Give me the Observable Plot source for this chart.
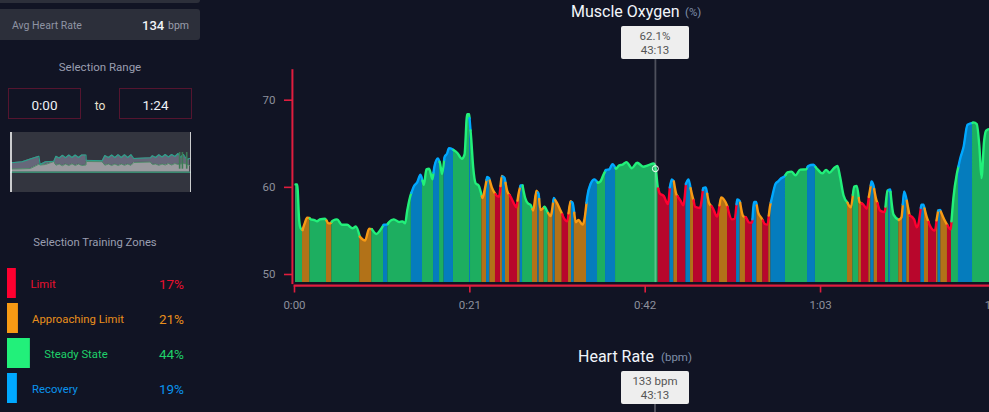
<!DOCTYPE html>
<html><head><meta charset="utf-8">
<script src="https://cdn.jsdelivr.net/npm/d3@7"></script>
<script src="https://cdn.jsdelivr.net/npm/@observablehq/plot@0.6"></script>
<style>
html,body{margin:0;padding:0;background:#111424;width:989px;height:412px;overflow:hidden;font-family:Roboto,sans-serif}
#page{position:relative;width:989px;height:412px;overflow:hidden}
#page svg{position:absolute;left:0;top:0;background:transparent;overflow:hidden}
.t{position:absolute;white-space:nowrap;line-height:1;transform:translate(-50%,-50%)}
.l{transform:translate(0,-50%)}
.r{transform:translate(-100%,-50%)}
.card{position:absolute;left:0;width:200px;background:#2c2f3a;border-radius:0 3px 3px 0}
.box{position:absolute;top:88px;width:71px;height:29px;border:1px solid #55152f}
.tip{position:absolute;left:621px;width:68px;height:33px;background:#eeeeee;border-radius:2px;color:#555;font-size:11.5px;line-height:14px;text-align:center;padding-top:2.5px;box-sizing:border-box}
</style></head>
<body><div id="page"></div>
<script>
// Muscle oxygen trace: time in minutes, value in %
const sampleT = [0.12,0.32,0.56,0.72,0.96,1.2,1.52,1.76,1.96,2.4,2.7,3.03,3.67,4.07,4.3,4.63,5.1,5.67,6.3,6.95,7.35,7.82,8.46,8.94,9.26,9.82,10.22,10.7,11.1,11.34,11.9,12.53,12.93,13.25,13.5,13.97,14.29,14.69,15.09,15.33,15.49,15.8,16.12,16.53,16.77,17.17,17.4,17.68,17.96,18.28,18.5,18.92,19.48,20.04,20.36,20.68,20.92,21.15,21.4,21.7,22.04,22.5,22.75,23.07,23.3,23.63,24.1,24.5,24.83,25.15,25.47,
25.87,26.27,26.59,26.83,27.07,27.31,27.63,27.95,28.27,28.58,28.98,29.22,29.46,29.94,30.34,30.66,31.06,31.46,31.86,32.26,32.66,33.06,33.3,33.69,34.01,34.49,34.73,35.05,35.45,35.93,36.33,36.65,36.97,37.29,37.69,38.09,38.49,38.88,39.28,39.76,40.4,41.04,41.76,42.32,43.03,43.27,43.51,43.75,44.23,44.71,44.95,45.19,45.43,45.75,46.23,46.55,46.87,47.19,47.59,47.99,48.54,48.94,49.26,49.66,50.06,50.62,51.1,51.42,51.82,52.38,52.7,53.02,53.33,53.73,54.05,54.45,
54.81,55.05,55.29,55.53,55.93,56.33,56.65,56.97,57.28,57.6,57.92,58.32,58.72,59.04,59.52,60.0,60.56,61.28,61.52,62.15,62.71,63.19,63.67,64.07,64.63,65.03,65.35,65.75,66.23,66.63,67.03,67.34,67.66,68.06,68.54,69.1,69.34,69.66,70.14,70.7,71.02,71.34,71.74,72.37,72.69,73.01,73.33,73.65,74.21,74.53,75.09,75.33,75.73,76.05,76.69,77.08,77.32,77.8,78.28,78.6,78.92,79.32,79.72,80.12,80.6,81.32,81.71,82.03,82.27,82.59,82.83,83.23,84];
const sampleV = [60.34,60.34,56.18,55.34,55.1,55.8,56.52,56.5,56.33,56.25,56.1,56.33,56.4,55.87,55.87,56.2,56.33,55.7,55.7,55.3,55.5,54.35,53.9,55.26,55.2,54.65,55.03,55.72,55.72,56.03,56.33,56.03,56.1,55.87,57.33,59.3,60.1,60.57,61.45,60.76,60.3,62.06,62.14,60.92,62.45,63.32,62.87,61.53,63.44,63.9,64.5,64.36,63.97,63.29,63.74,68.4,68.4,65.73,62.3,60.46,60.23,58.78,59.6,61.2,61.07,60,59.16,58.93,61.3,61.07,59.6,
58.93,58.17,57.7,59.24,60.23,60.23,58.78,58.17,58,57.33,59.62,59.3,57.4,57.78,57.1,56.71,58.78,58.17,57.33,56.48,56.1,58.4,58.24,56,56.26,55.72,56.37,58.85,60.38,60.92,60.53,60.69,61.38,62,62.06,62.67,62.14,62.52,62.6,62.9,62.2,62.83,62.37,62.52,62.75,62.14,60,59.3,59,58.09,60,60.92,60.69,59.16,58.47,57.94,60.38,60.92,59.24,57.78,57.63,59.92,60,58.17,57.7,56.64,58.85,58.62,57.86,56.33,56.4,58.62,58.4,56.71,56.56,55.95,
55.95,58.32,58.32,57.1,56.48,55.8,55.72,57.94,59.24,60.38,60.69,61.07,61.3,61.72,61.8,61.38,62.03,62.06,62.45,62.6,62,61.6,62,61.68,62.22,62.45,61.15,59.08,58.24,57.7,60.08,60.15,58.32,58.09,57.55,60.69,60.2,58.62,57.33,57.17,59.62,59.77,56.87,56.26,56.56,59.54,58.47,56.79,56.33,55.41,58.01,58.01,56.56,55.72,55.03,57.33,57.4,56.33,55.49,55.19,58.85,61.53,63.29,64.59,67.18,67.45,67.26,64.59,61.07,65.35,66.5,66.69,66.7];

// Training zone of each stretch: start minute and zone name
const zoneStart = [0.12,0.96,1.84,3.83,4.47,7.82,9.26,10.66,11.18,14.0,15.33,16.65,17.37,17.92,19.04,20.96,21.08,22.44,23.0,23.39,24.07,24.67,24.9,25.27,25.75,26.71,27.03,27.31,28.5,29.14,29.3,29.9,30.38,30.98,31.22,32.06,32.82,33.18,33.5,34.97,36.29,37.25,38.45,43.55,44.95,45.43,45.87,46.87,47.43,47.79,48.9,49.42,49.94,50.9,51.86,52.94,53.37,54.01,54.85,55.37,56.09,56.8,57.05,58.8,61.44,62.39,66.23,66.87,67.58,67.9,68.78,69.02,69.42,69.82,70.78,71.18,71.38,72.37,72.85,73.33,73.65,75.01,75.45,75.93,76.89,77.08,77.4,78.2,78.68,79.52,81.2];
const S="Steady State",A="Approaching Limit",L="Limit",R="Recovery";
const zoneSeq = [S,A,S,A,S,A,S,R,S,R,S,R,S,R,S,R,S,A,R,A,L,A,R,A,L,A,R,S,A,R,A,S,A,R,A,L,A,R,A,R,S,R,S,L,R,A,L,R,A,L,R,A,L,A,L,R,A,L,R,A,L,A,R,S,R,S,A,S,A,L,A,R,A,L,S,R,S,A,R,A,L,R,A,L,A,R,A,L,S,R,S];

const zoneNames = [L,A,S,R];
const zoneShare = [17,21,44,19];
const zoneColor = ["#ff0030","#f79a14","#22f07a","#00a8ff"];
const zoneText = ["#e8102f","#e98f1c","#1fd069","#0a95ee"];
const zoneLabelCenter = [43,78,76,55];

const yTicks = [50,60,70];
const xTicks = [0,21,42,63,84];
const cursorT = 43.22, cursorV = 62.14;

// Overview strip in the sidebar
const miniT = [0.2,5.2,9,13,13.6,16.1,20,21,22.5,24,25.5,27,28.5,30,31.5,33,35,35.1,42.6,43.8,45.5,47,48.5,50,51.5,53,54.5,56,57.3,65.1,66,67.5,69,70.5,72,73.5,75,76.5,78,79,80.5,82,83.4];
const miniUpper = [29.7,30.7,33.5,36.3,28,30.7,31.3,36.3,34.5,37.2,34.8,37.5,35,37.5,35,37.5,37.5,32.3,31.7,37,35,37.5,35,37.8,35,37.8,35,37.8,34,34.7,36.8,35,37.8,35.5,38,35.5,38,36,39,35,38,33,34];
const miniLower = [23.5,23.7,24,28.3,27.5,28,31,27.3,28.5,26.8,28.5,27,28.7,27,28.5,27,27.5,31,30.8,27.3,28.5,27,28.5,27,28.5,27.2,28.5,27.2,30,30.5,28,28.5,27.2,28.5,27.5,29,27.5,29,28,28.5,29,28.5,27];
const miniSpikes = [78.7,80,82];

const page = document.getElementById("page");
const valueAt = d3.scaleLinear(sampleT, sampleV);
const rows = [];
zoneStart.forEach((a,i)=>{
  const b = i+1<zoneStart.length ? zoneStart[i+1] : 84;
  [a,...sampleT.filter(t=>t>a&&t<b),b].forEach(t=>rows.push({seg:i,zone:zoneSeq[i],t,v:valueAt(t)}));
});
const RED="#e01d3e", GREY="#8d909c";
const clock = m => `${Math.floor(m/60)}:${String(m%60).padStart(2,"0")}`;

const main = Plot.plot({
  width:989,height:412,marginLeft:292,marginBottom:126.5,marginTop:0,marginRight:0,
  style:{background:"transparent",fontFamily:"Roboto,sans-serif",fontSize:"11.5px"},
  x:{type:"linear",domain:[0,84],range:[294,995.4],label:null},
  y:{type:"linear",domain:[50,70],range:[274,99.7],label:null},
  color:{type:"ordinal",domain:zoneNames,range:zoneColor},
  marks:[
    Plot.areaY(rows,{x:"t",y1:()=>49.07,y2:"v",z:"seg",fill:"zone",fillOpacity:0.7,curve:"monotone-x"}),
    Plot.lineY(rows,{x:"t",y:"v",z:"seg",stroke:"zone",strokeWidth:2.4,strokeLinejoin:"round",strokeLinecap:"round",curve:"monotone-x"}),
    Plot.ruleY([48.73],{x1:-0.05,x2:84,stroke:RED,strokeWidth:2.2}),
    Plot.ruleX([-0.25],{y1:48.84,y2:73.5,stroke:RED,strokeWidth:2}),
    Plot.axisY(yTicks,{anchor:"left",tickSize:8,tickPadding:9,stroke:RED,strokeWidth:1.6,fill:GREY,fontSize:11.5,label:null}),
    Plot.axisX(xTicks,{anchor:"bottom",tickSize:7,tickPadding:8,stroke:RED,strokeWidth:1.6,fill:GREY,fontSize:11.5,label:null,tickFormat:clock}),
    Plot.ruleX([cursorT],{y1:49.07,y2:74.65,stroke:"#ffffff",strokeOpacity:0.26,strokeWidth:1.8}),
    Plot.dot([cursorT],{x:d=>d,y:()=>cursorV,r:3,stroke:"#ffffff",fill:"none",strokeWidth:1})
  ]
});
page.appendChild(main);

const miniRows = miniT.map((t,i)=>({t,u:miniUpper[i],l:miniLower[i]}));
const mini = Plot.plot({
  width:181,height:60,margin:0,axis:null,
  style:{background:"#33353f"},
  x:{domain:[0,84],range:[0.5,180.5]},
  y:{domain:[0,60],range:[60,0]},
  marks:[
    Plot.areaY(miniRows,{x:"t",y1:()=>20.3,y2:"l",fill:"#9b9ba0"}),
    Plot.areaY(miniRows,{x:"t",y1:"l",y2:"u",fill:"#66677a"}),
    Plot.lineY(miniRows,{x:"t",y:"l",stroke:"#4f8a6a",strokeWidth:1}),
    Plot.lineY(miniRows,{x:"t",y:"u",stroke:"#2ba38c",strokeWidth:1.1}),
    Plot.ruleX(miniSpikes,{y1:23.3,y2:40,stroke:"#3d7a55",strokeWidth:1.6}),
    Plot.ruleY([20.3],{stroke:"#3a8a70",strokeWidth:1.5}),
    Plot.ruleX([0,84],{stroke:"#ffffff",strokeWidth:1.5})
  ]
});
mini.style.left="10px";mini.style.top="132px";
page.appendChild(mini);

const bars = Plot.plot({
  width:210,height:412,margin:0,axis:null,
  style:{background:"transparent"},
  x:{domain:[0,100],range:[7,59]},
  y:{type:"band",domain:zoneNames,range:[268,403],paddingInner:0.143,paddingOuter:0},
  color:{type:"ordinal",domain:zoneNames,range:zoneColor},
  marks:[Plot.barX(zoneNames.map((n,i)=>({n,p:zoneShare[i]})),{x:"p",y:"n",fill:"n"})]
});
page.appendChild(bars);

function add(cls,css,html){const e=document.createElement("div");e.className=cls;e.style.cssText=css;e.innerHTML=html;page.appendChild(e);}
add("card","top:-10px;height:13px;","");
add("card","top:9px;height:31px;","");
add("t l","left:12px;top:26px;font-size:10.5px;color:#8f94a3","Avg Heart Rate");
add("t l","left:142px;top:25px;font-size:13px;font-weight:500;color:#f2f4f8","134");
add("t l","left:168px;top:26px;font-size:10.5px;color:#9a9eab","bpm");
add("t","left:100px;top:68px;font-size:11.5px;color:#9a9eb0","Selection Range");
add("box","left:8px;","");
add("box","left:119px;","");
add("t","left:44.5px;top:105.5px;font-size:13.5px;color:#eef0f4","0:00");
add("t","left:100px;top:105.5px;font-size:12px;color:#e8e2cf","to");
add("t","left:155.5px;top:105.5px;font-size:13.5px;color:#eef0f4","1:24");
add("t","left:95px;top:243px;font-size:11.3px;color:#9a9eb0","Selection Training Zones");
zoneNames.forEach((n,i)=>{
  const y=285+i*35;
  add("t",`left:${zoneLabelCenter[i]}px;top:${y}px;font-size:11.3px;color:${zoneText[i]}`,n);
  add("t r",`left:184px;top:${y}px;font-size:13.5px;color:${zoneText[i]}`,zoneShare[i]+"%");
});
add("t l","left:571px;top:12px;font-size:16px;color:#f2f6fb","Muscle Oxygen");
add("t l","left:685px;top:12.5px;font-size:11.5px;color:#7f8ea8","(%)");
add("tip","top:26px;","62.1%<br>43:13");
add("t l","left:578px;top:357px;font-size:16px;color:#f2f6fb","Heart Rate");
add("t l","left:661px;top:357.5px;font-size:11.5px;color:#7f8ea8","(bpm)");
add("tip","top:371px;","133 bpm<br>43:13");
add("","position:absolute;left:654px;top:404px;width:2px;height:8px;background:#4b4d5a","");
</script>
</body></html>
